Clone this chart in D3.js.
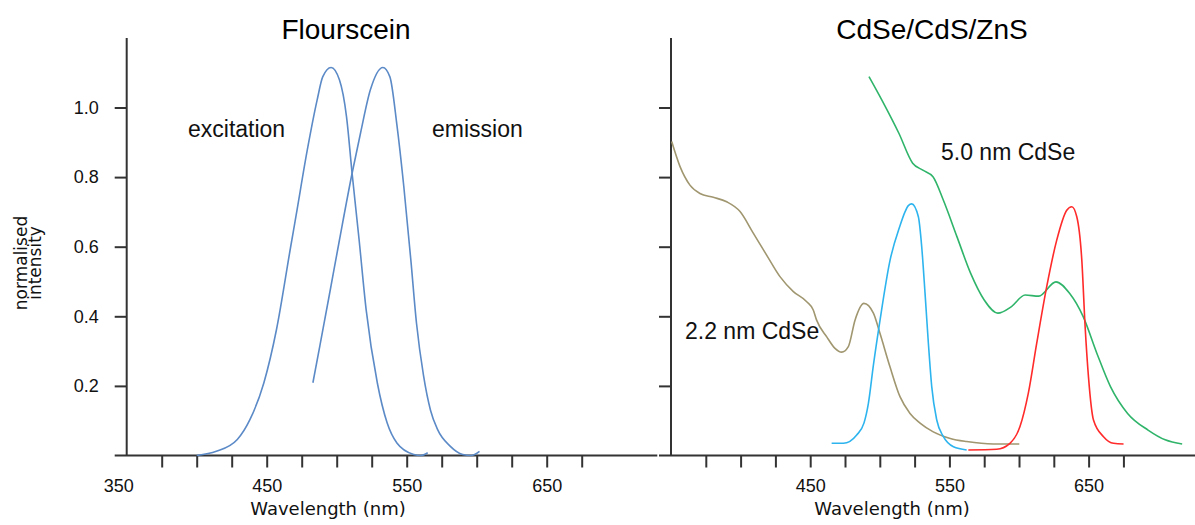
<!DOCTYPE html>
<html lang="en">
<head>
  <meta charset="UTF-8">
  <title>Flourscein vs CdSe/CdS/ZnS</title>
  <script src="https://d3js.org/d3.v7.min.js"></script>
  <style>
    body { margin: 0; background: #fff; }
    svg { display: block; font-family: "Liberation Sans", Arial, sans-serif; }
    .axis line, .axis path { stroke: #333; stroke-width: 2px; }
    .axis text { font-size: 18px; fill: #111; font-family: "Liberation Sans", Arial, sans-serif; }
    .curve { fill: none; stroke-width: 1.6px; }
    .lbl { font-size: 23px; fill: #111; }
    .title { font-size: 28px; fill: #000; text-anchor: middle; }
    .xtitle { font-size: 18px; fill: #111; font-family: "DejaVu Sans", sans-serif; text-anchor: middle; }
  </style>
</head>
<body>
<svg id="chart" width="1195" height="525"></svg>
<script>
  const xTicks = d3.range(375, 676, 25);
  const xLabelsLeft = [350, 450, 550, 650];
  const xLabelsRight = [450, 550, 650];
  const yTicks = [0.2, 0.4, 0.6, 0.8, 1.0];

  // Flourscein
  const excitationWl  = [400, 414, 429, 438, 448, 457, 467, 471, 479, 486, 490, 496, 502, 507, 511, 516, 521, 529, 536, 543, 555, 560, 565];
  const excitationVal = [0.0, 0.012, 0.046, 0.103, 0.209, 0.362, 0.597, 0.69, 0.878, 1.021, 1.088, 1.115, 1.079, 0.974, 0.811, 0.62, 0.42, 0.209, 0.094, 0.036, 0.003, 0.0, 0.008];
  const emissionWl  = [483, 488, 495, 502, 511, 517, 524, 533, 538, 543, 548, 553, 557, 562, 567, 572, 581, 590, 596, 602];
  const emissionVal = [0.209, 0.316, 0.467, 0.62, 0.811, 0.926, 1.050, 1.115, 1.088, 0.95, 0.77, 0.56, 0.38, 0.23, 0.13, 0.075, 0.027, 0.003, 0.0, 0.012];

  // CdSe/CdS/ZnS
  const abs22Wl  = [350.5, 356.5, 363.6, 370.8, 380.4, 390, 399.6, 409.1, 418.7, 428.3, 437.9, 447.5, 452.2, 454.6, 461.9, 467.8, 472.6, 477.4, 482.2, 488.6, 495.4, 500.1, 507.3, 514.5, 521.7, 528.9, 538.4, 550.6, 562.4, 581.5, 600.2];
  const abs22Val = [0.902, 0.830, 0.777, 0.753, 0.742, 0.729, 0.701, 0.639, 0.576, 0.514, 0.471, 0.442, 0.418, 0.389, 0.341, 0.308, 0.297, 0.313, 0.389, 0.437, 0.409, 0.351, 0.255, 0.169, 0.121, 0.093, 0.068, 0.049, 0.040, 0.033, 0.033];
  const em22Wl  = [465.4, 473.8, 483.4, 488.6, 491.8, 495.4, 500.2, 507.3, 514.5, 518.1, 520.5, 522.9, 527.7, 530.1, 532.5, 534.9, 537.3, 540.9, 545.7, 552.9, 562.4];
  const em22Val = [0.035, 0.035, 0.059, 0.093, 0.150, 0.26, 0.39, 0.56, 0.66, 0.700, 0.718, 0.723, 0.686, 0.600, 0.466, 0.322, 0.198, 0.102, 0.054, 0.025, 0.016];
  const abs50Wl  = [492.2, 501.4, 513.7, 523.6, 530.9, 538.2, 545.6, 555.4, 565.2, 575, 584.8, 594.6, 604.4, 614.2, 626.5, 636.3, 646.1, 655.9, 665.7, 678, 692.7, 705, 717.2];
  const abs50Val = [1.089, 1.022, 0.926, 0.840, 0.820, 0.801, 0.734, 0.629, 0.524, 0.447, 0.409, 0.428, 0.461, 0.458, 0.499, 0.466, 0.399, 0.294, 0.198, 0.121, 0.073, 0.045, 0.033];
  const em50Wl  = [563.6, 584, 593.5, 600.7, 606.7, 612.7, 619.9, 627.1, 634.3, 637.9, 641.5, 645.1, 647.5, 649.9, 653.5, 660.7, 667.9, 675.1];
  const em50Val = [0.016, 0.018, 0.035, 0.083, 0.179, 0.322, 0.485, 0.619, 0.705, 0.715, 0.686, 0.562, 0.370, 0.226, 0.102, 0.054, 0.035, 0.033];

  const svg = d3.select("#chart");
  const y = d3.scaleLinear().domain([0, 1.2]).range([455.5, 37.9]);
  const xL = d3.scaleLinear().domain([350, 729]).range([126.7, 657.3]);
  const xR = d3.scaleLinear().domain([350, 727]).range([671, 1195.8]);

  const zip = (a, b) => a.map((d, i) => [d, b[i]]);

  function panel(x, labels, showYLabels) {
    const g = svg.append("g");
    // y axis
    const ya = g.append("g").attr("class", "axis")
      .attr("transform", `translate(${x(350)},0)`)
      .call(d3.axisLeft(y).tickValues(yTicks).tickSize(12).tickPadding(16)
        .tickFormat(showYLabels ? d3.format(".1f") : () => ""));
    ya.select(".domain").remove();
    g.append("line")
      .attr("x1", x(350)).attr("x2", x(350)).attr("y1", y(1.2)).attr("y2", y(0))
      .attr("stroke", "#333").attr("stroke-width", 2);
    // x axis
    const xa = g.append("g").attr("class", "axis")
      .attr("transform", `translate(0,${y(0)})`)
      .call(d3.axisBottom(x).tickValues(xTicks).tickSize(12).tickPadding(12)
        .tickFormat(d => labels.includes(d) ? d : ""));
    xa.select(".domain").remove();
    if (labels.includes(350)) {
      xa.append("text").attr("x", x(350) - 8).attr("y", 24).attr("dy", "0.71em")
        .attr("text-anchor", "middle").text("350");
    }
    g.append("line")
      .attr("x1", x(350) - 12).attr("x2", x.range()[1]).attr("y1", y(0)).attr("y2", y(0))
      .attr("stroke", "#333").attr("stroke-width", 2);
    return g;
  }

  const left = panel(xL, xLabelsLeft, true);
  const right = panel(xR, xLabelsRight, false);

  function curve(g, x, data, color, w) {
    const line = d3.line().x(d => x(d[0])).y(d => y(d[1])).curve(d3.curveMonotoneX);
    g.append("path").attr("class", "curve").attr("d", line(data))
      .attr("stroke", color).attr("stroke-width", w);
  }

  curve(left, xL, zip(excitationWl, excitationVal), "#5b8ac7", 1.5);
  curve(left, xL, zip(emissionWl, emissionVal), "#5b8ac7", 1.5);

  curve(right, xR, zip(abs22Wl, abs22Val), "#a0966f", 1.8);
  curve(right, xR, zip(em22Wl, em22Val), "#2db4ee", 1.8);
  curve(right, xR, zip(abs50Wl, abs50Val), "#2fb46a", 1.8);
  curve(right, xR, zip(em50Wl, em50Val), "#ff2a2a", 1.8);

  // titles and labels
  svg.append("text").attr("class", "title").attr("x", 346).attr("y", 39).text("Flourscein");
  svg.append("text").attr("class", "title").attr("x", 932).attr("y", 39).text("CdSe/CdS/ZnS");

  svg.append("text").attr("class", "lbl").attr("x", 188).attr("y", 137).text("excitation");
  svg.append("text").attr("class", "lbl").attr("x", 432).attr("y", 137).text("emission");
  svg.append("text").attr("class", "lbl").attr("x", 941).attr("y", 160).text("5.0 nm CdSe");
  svg.append("text").attr("class", "lbl").attr("x", 685).attr("y", 339).text("2.2 nm CdSe");

  svg.append("text").attr("class", "xtitle").attr("x", 328).attr("y", 515).text("Wavelength (nm)");
  svg.append("text").attr("class", "xtitle").attr("x", 892).attr("y", 515).text("Wavelength (nm)");

  const yl = svg.append("text").attr("transform", "translate(0,263) rotate(-90)")
    .attr("text-anchor", "middle").attr("font-family", "DejaVu Sans, sans-serif")
    .attr("font-size", 17).attr("fill", "#111");
  yl.append("tspan").attr("x", 0).attr("y", 27).text("normalised");
  yl.append("tspan").attr("x", 0).attr("y", 41).text("intensity");
</script>
</body>
</html>
